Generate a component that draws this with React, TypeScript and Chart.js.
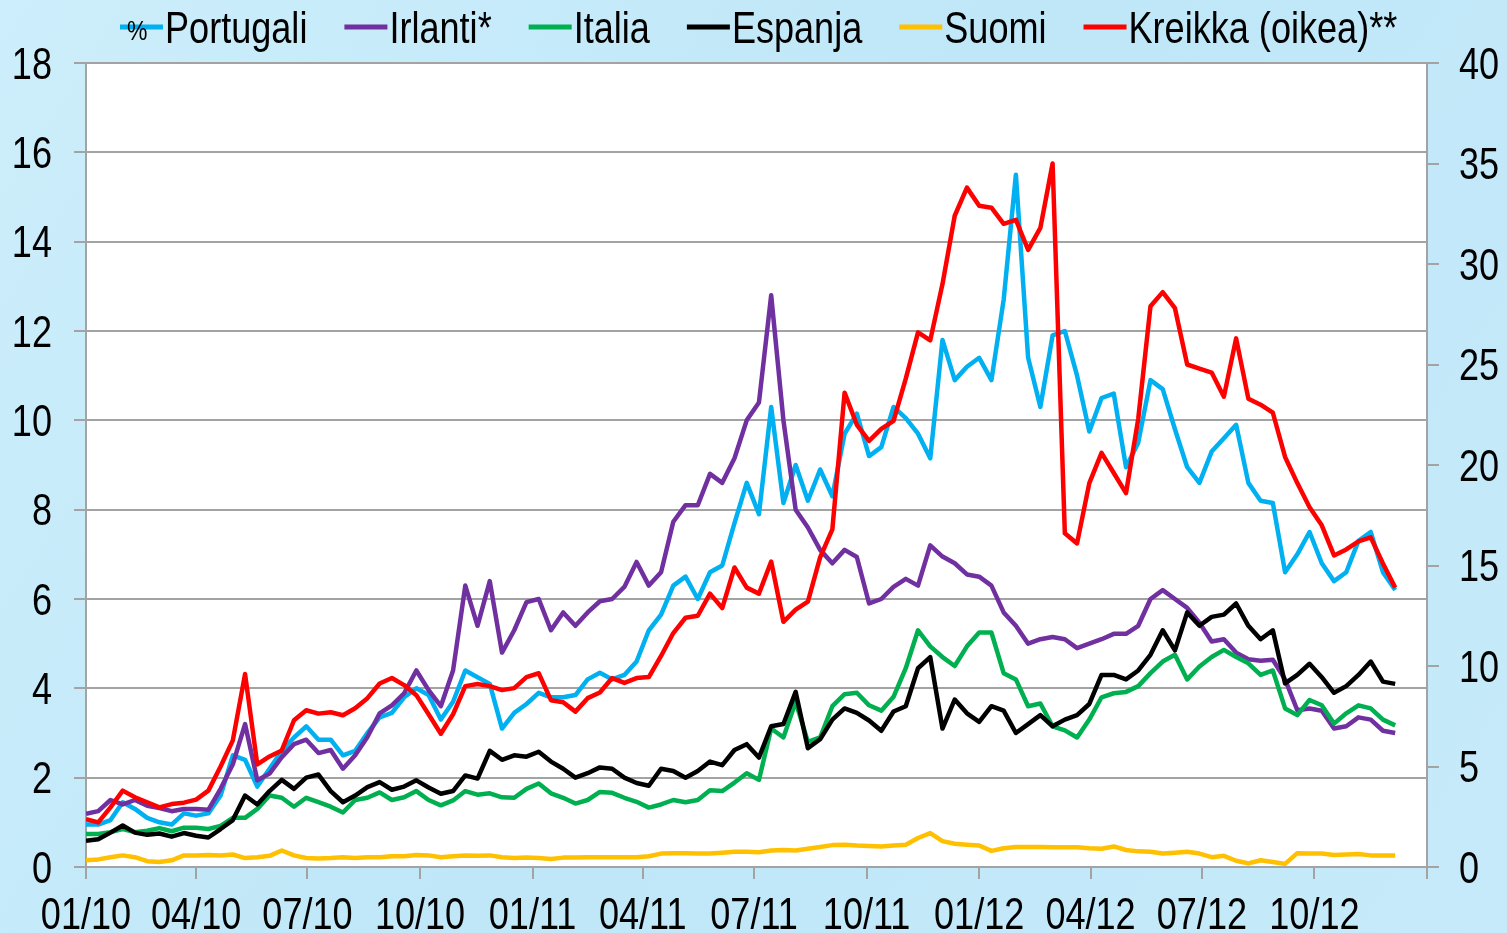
import React, { useEffect, useRef } from 'react';
import { Chart, registerables } from 'chart.js';

Chart.register(...registerables);

// Sampling dates: days since 1 Jan 2010, every 10 days
const days: number[] = Array.from({ length: 108 }, (_, i) => i * 10);

// Quarter ticks on the date axis (days since 1 Jan 2010)
const quarterDays = [0, 90, 181, 273, 365, 455, 546, 638, 730, 821, 912, 1004, 1096];
const quarterLabels = ['01/10', '04/10', '07/10', '10/10', '01/11', '04/11', '07/11', '10/11', '01/12', '04/12', '07/12', '10/12', ''];
const leftTicks = [0, 2, 4, 6, 8, 10, 12, 14, 16, 18];
const rightTicks = [0, 5, 10, 15, 20, 25, 30, 35, 40];

const seriesLabels = ['Portugali', 'Irlanti*', 'Italia', 'Espanja', 'Suomi', 'Kreikka (oikea)**'];
const seriesColors = ['#00B0F0', '#7030A0', '#00B050', '#000000', '#FFC000', '#FF0000'];
const unitLabel = '%';

const portugal = [
  0.95, 0.95, 1.05, 1.45, 1.3, 1.1, 1.0, 0.95, 1.2, 1.15,
  1.2, 1.6, 2.5, 2.4, 1.8, 2.2, 2.6, 2.9, 3.15, 2.85,
  2.85, 2.5, 2.6, 3.0, 3.35, 3.45, 3.8, 4.0, 3.85, 3.3,
  3.7, 4.4, 4.25, 4.1, 3.1, 3.45, 3.65, 3.9, 3.8, 3.8,
  3.85, 4.2, 4.35, 4.2, 4.3, 4.6, 5.3, 5.65, 6.3, 6.5,
  6.0, 6.6, 6.75, 7.7, 8.6, 7.9, 10.3, 8.15, 9.0, 8.2,
  8.9, 8.3, 9.7, 10.15, 9.2, 9.4, 10.3, 10.05, 9.7, 9.15,
  11.8, 10.9, 11.2, 11.4, 10.9, 12.7, 15.5, 11.4, 10.3, 11.9,
  12.0, 11.0, 9.75, 10.5, 10.6, 8.95, 9.5, 10.9, 10.7, 9.8,
  8.95, 8.6, 9.3, 9.6, 9.9, 8.6, 8.2, 8.15, 6.6, 7.0,
  7.5, 6.8, 6.4, 6.6, 7.3, 7.5, 6.6, 6.2,
];

const ireland = [
  1.19, 1.25, 1.5, 1.4, 1.5, 1.37, 1.32, 1.25, 1.3, 1.3,
  1.28, 1.75, 2.3, 3.2, 1.94, 2.09, 2.46, 2.75, 2.85, 2.55,
  2.62, 2.2, 2.5, 2.91, 3.44, 3.62, 3.89, 4.4, 3.96, 3.6,
  4.4, 6.3, 5.4, 6.4, 4.8, 5.3, 5.93, 6.0, 5.3, 5.7,
  5.4, 5.7, 5.95, 6.0, 6.27, 6.83, 6.3, 6.6, 7.73, 8.1,
  8.1, 8.8, 8.6, 9.15, 10.0, 10.4, 12.8, 10.0, 8.0, 7.6,
  7.1, 6.8, 7.1, 6.94, 5.9, 6.0, 6.27, 6.45, 6.3, 7.2,
  6.95, 6.8, 6.55, 6.5, 6.3, 5.7, 5.4, 5.0, 5.1, 5.15,
  5.1, 4.9, 5.0, 5.1, 5.22, 5.22, 5.4, 6.0, 6.2, 6.0,
  5.8, 5.47, 5.05, 5.1, 4.8, 4.65, 4.62, 4.64, 4.2, 3.51,
  3.55, 3.5, 3.1, 3.15, 3.35, 3.3, 3.05, 3.0,
];

const italy = [
  0.74, 0.74, 0.78, 0.85, 0.78, 0.81, 0.87, 0.8, 0.88, 0.88,
  0.85, 0.92, 1.1, 1.1, 1.3, 1.6, 1.55, 1.35, 1.55, 1.45,
  1.35, 1.22, 1.5, 1.55, 1.67, 1.5, 1.56, 1.7, 1.5, 1.38,
  1.49, 1.7, 1.62, 1.65, 1.56, 1.55, 1.75, 1.87, 1.65, 1.55,
  1.42, 1.5, 1.68, 1.66, 1.55, 1.46, 1.33, 1.4, 1.5, 1.45,
  1.5, 1.72, 1.7, 1.89, 2.1, 1.95, 3.1, 2.9, 3.7, 2.8,
  2.9, 3.6, 3.87, 3.9, 3.62, 3.5, 3.81, 4.45, 5.3, 4.94,
  4.7, 4.5, 4.94, 5.25, 5.25, 4.34, 4.2, 3.6, 3.66, 3.15,
  3.06, 2.9, 3.3, 3.8, 3.89, 3.92, 4.05, 4.34, 4.6, 4.75,
  4.2, 4.49, 4.7, 4.86, 4.7, 4.56, 4.3, 4.4, 3.55, 3.4,
  3.74, 3.62, 3.21, 3.44, 3.62, 3.55, 3.3, 3.17,
];

const spain = [
  0.59, 0.62, 0.77, 0.93, 0.77, 0.72, 0.75, 0.68, 0.76, 0.7,
  0.66, 0.85, 1.05, 1.6, 1.4, 1.7, 1.95, 1.75, 2.0, 2.07,
  1.7, 1.45, 1.6, 1.79, 1.9, 1.73, 1.8, 1.94, 1.78, 1.64,
  1.7, 2.05, 1.98, 2.6, 2.4, 2.5, 2.47, 2.58, 2.36, 2.2,
  2.0, 2.1, 2.23, 2.2, 2.0, 1.88, 1.82, 2.2, 2.15, 2.0,
  2.15, 2.36, 2.28, 2.62, 2.75, 2.45, 3.15, 3.2, 3.92, 2.66,
  2.86, 3.3, 3.55, 3.45, 3.28, 3.05, 3.48, 3.6, 4.45, 4.7,
  3.1, 3.75, 3.44, 3.25, 3.6, 3.5, 3.0, 3.2, 3.4, 3.15,
  3.3, 3.4, 3.65, 4.3, 4.3, 4.2, 4.4, 4.75, 5.3, 4.85,
  5.7, 5.4, 5.6, 5.65, 5.9, 5.4, 5.1, 5.3, 4.11, 4.3,
  4.55, 4.25, 3.9, 4.05, 4.3, 4.6, 4.15, 4.1,
];

const finland = [
  0.15, 0.17, 0.22, 0.26, 0.22, 0.13, 0.11, 0.15, 0.26, 0.26,
  0.27, 0.26, 0.28, 0.2, 0.22, 0.25, 0.37, 0.26, 0.2, 0.19,
  0.2, 0.22, 0.2, 0.22, 0.22, 0.24, 0.24, 0.27, 0.26, 0.22,
  0.24, 0.26, 0.25, 0.26, 0.22, 0.2, 0.21, 0.2, 0.18, 0.21,
  0.21, 0.22, 0.22, 0.22, 0.22, 0.22, 0.24, 0.3, 0.31, 0.31,
  0.3, 0.3, 0.32, 0.34, 0.34, 0.33, 0.37, 0.38, 0.37, 0.41,
  0.45, 0.49, 0.5, 0.48, 0.47, 0.46, 0.48, 0.5, 0.65, 0.76,
  0.58, 0.52, 0.5, 0.48, 0.36, 0.42, 0.45, 0.45, 0.45, 0.44,
  0.44, 0.44, 0.42, 0.41, 0.46, 0.38, 0.35, 0.34, 0.3, 0.32,
  0.34, 0.3, 0.22, 0.25, 0.14, 0.08, 0.15, 0.11, 0.07, 0.31,
  0.3, 0.3, 0.27, 0.28, 0.29, 0.26, 0.26, 0.26,
];

// Greece, on the right-hand axis
const greece = [
  2.38, 2.22, 2.97, 3.8, 3.47, 3.22, 2.97, 3.13, 3.2, 3.35,
  3.8, 5.0, 6.3, 9.6, 5.1, 5.5, 5.8, 7.3, 7.8, 7.63,
  7.7, 7.55, 7.9, 8.4, 9.13, 9.4, 9.05, 8.55, 7.6, 6.63,
  7.6, 9.0, 9.1, 9.0, 8.8, 8.9, 9.45, 9.64, 8.3, 8.2,
  7.73, 8.4, 8.68, 9.4, 9.16, 9.4, 9.45, 10.5, 11.64, 12.4,
  12.5, 13.6, 12.88, 14.9, 13.9, 13.6, 15.2, 12.2, 12.8, 13.2,
  15.4, 16.8, 23.6, 22.0, 21.2, 21.8, 22.2, 24.3, 26.6, 26.2,
  29.0, 32.4, 33.8, 32.9, 32.8, 32.0, 32.2, 30.7, 31.8, 35.0,
  16.6, 16.1, 19.1, 20.6, 19.6, 18.6, 22.3, 27.9, 28.6, 27.8,
  25.0, 24.8, 24.6, 23.4, 26.3, 23.3, 23.0, 22.6, 20.4, 19.1,
  17.9, 17.0, 15.5, 15.8, 16.2, 16.4, 15.1, 13.9,
];

const FONT = "'Liberation Sans', Arial, sans-serif";
const SX = 0.82; // narrow text look
const GRID = '#a3a3a3';

const toPoints = (vals: number[]) => vals.map((v, i) => ({ x: days[i], y: v }));

function drawNarrow(ctx: CanvasRenderingContext2D, text: string, x: number, y: number, align: CanvasTextAlign) {
  ctx.save();
  ctx.translate(x, y);
  ctx.scale(SX, 1);
  ctx.textAlign = align;
  ctx.fillText(text, 0, 0);
  ctx.restore();
}

const backgroundPlugin = {
  id: 'bg',
  beforeDraw(chart: any) {
    const { ctx, width, height, chartArea } = chart;
    ctx.save();
    const g = ctx.createLinearGradient(0, 0, width, height);
    g.addColorStop(0, '#cdeefb');
    g.addColorStop(0.5, '#bfe7f8');
    g.addColorStop(1, '#c6eafa');
    ctx.fillStyle = g;
    ctx.fillRect(0, 0, width, height);
    ctx.fillStyle = '#ffffff';
    ctx.fillRect(chartArea.left, chartArea.top, chartArea.right - chartArea.left, chartArea.bottom - chartArea.top);
    ctx.restore();
  },
};

const textPlugin = {
  id: 'texts',
  afterDraw(chart: any) {
    const ctx: CanvasRenderingContext2D = chart.ctx;
    ctx.save();
    ctx.fillStyle = '#000';
    ctx.textBaseline = 'alphabetic';

    // Legend
    let x = 120;
    const lineY = 27;
    const textY = 43;
    seriesLabels.forEach((lab, i) => {
      ctx.strokeStyle = seriesColors[i];
      ctx.lineWidth = 5;
      ctx.beginPath();
      ctx.moveTo(x, lineY);
      ctx.lineTo(x + 43, lineY);
      ctx.stroke();
      if (i === 0) {
        ctx.font = `28px ${FONT}`;
        drawNarrow(ctx, unitLabel, 127, 40, 'left');
      }
      ctx.font = `44px ${FONT}`;
      drawNarrow(ctx, lab, x + 45, textY, 'left');
      x += 45 + ctx.measureText(lab).width * SX + 37;
    });

    // Axis labels
    ctx.font = `44px ${FONT}`;
    const xs = chart.scales.x;
    quarterDays.forEach((d, i) => {
      if (quarterLabels[i]) drawNarrow(ctx, quarterLabels[i], xs.getPixelForValue(d), 929, 'center');
    });
    const ys = chart.scales.y;
    leftTicks.forEach((v) => drawNarrow(ctx, String(v), ys.right - 34, ys.getPixelForValue(v) + 15.5, 'right'));
    const y2 = chart.scales.y2;
    rightTicks.forEach((v) => drawNarrow(ctx, String(v), y2.left + 32, y2.getPixelForValue(v) + 15.5, 'left'));
    ctx.restore();
  },
};

export default function App() {
  const ref = useRef<HTMLCanvasElement | null>(null);

  useEffect(() => {
    document.body.style.margin = '0';
    document.body.style.overflow = 'hidden';
    if (!ref.current) return;
    const mk = (label: string, vals: number[], color: string, order: number, axis = 'y') => ({
      label,
      data: toPoints(vals),
      borderColor: color,
      backgroundColor: color,
      borderWidth: 4.5,
      borderJoinStyle: 'round',
      pointRadius: 0,
      tension: 0,
      fill: false,
      yAxisID: axis,
      order,
    });
    const chart = new Chart(ref.current, {
      type: 'line',
      data: {
        datasets: [
          mk(seriesLabels[0], portugal, seriesColors[0], 6),
          mk(seriesLabels[1], ireland, seriesColors[1], 5),
          mk(seriesLabels[2], italy, seriesColors[2], 4),
          mk(seriesLabels[3], spain, seriesColors[3], 3),
          mk(seriesLabels[4], finland, seriesColors[4], 2),
          mk(seriesLabels[5], greece, seriesColors[5], 1, 'y2'),
        ] as any,
      },
      options: {
        animation: false,
        responsive: false,
        devicePixelRatio: 1,
        layout: { padding: { top: 63, left: 0, right: 0, bottom: 0 } },
        plugins: { legend: { display: false }, tooltip: { enabled: false } },
        scales: {
          x: {
            type: 'linear',
            min: 0,
            max: 1096,
            afterBuildTicks: (s: any) => {
              s.ticks = quarterDays.map((v) => ({ value: v }));
            },
            afterFit: (s: any) => {
              s.height = 66;
            },
            ticks: { display: false, autoSkip: false, maxRotation: 0 },
            grid: { drawOnChartArea: false, drawTicks: true, tickLength: 12, color: GRID, lineWidth: 2 },
            border: { display: true, color: GRID, width: 2 },
          },
          y: {
            position: 'left',
            min: 0,
            max: 18,
            afterBuildTicks: (s: any) => {
              s.ticks = leftTicks.map((v) => ({ value: v }));
            },
            afterFit: (s: any) => {
              s.width = 86;
            },
            ticks: { display: false },
            grid: { color: GRID, lineWidth: 2, tickLength: 12, drawTicks: true },
            border: { display: true, color: GRID, width: 2 },
          },
          y2: {
            position: 'right',
            min: 0,
            max: 40,
            afterBuildTicks: (s: any) => {
              s.ticks = rightTicks.map((v) => ({ value: v }));
            },
            afterFit: (s: any) => {
              s.width = 80;
            },
            ticks: { display: false },
            grid: { drawOnChartArea: false, color: GRID, lineWidth: 2, tickLength: 12, drawTicks: true },
            border: { display: true, color: GRID, width: 2 },
          },
        },
      } as any,
      plugins: [backgroundPlugin, textPlugin],
    });
    return () => chart.destroy();
  }, []);

  return (
    <div style={{ width: 1507, height: 933, position: 'relative' }}>
      <canvas ref={ref} width={1507} height={933} style={{ width: 1507, height: 933, display: 'block' }} />
    </div>
  );
}
